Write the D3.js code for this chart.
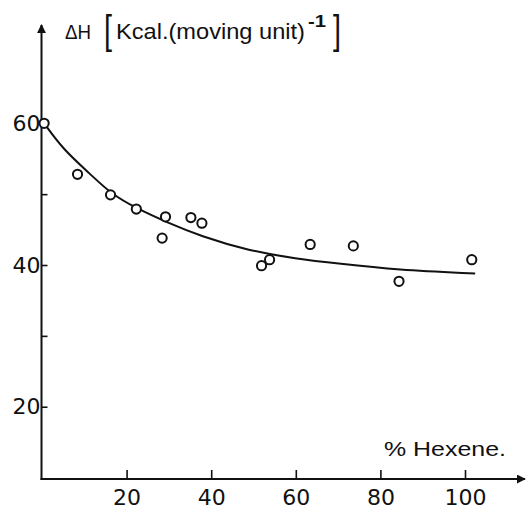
<!DOCTYPE html>
<html>
<head>
<meta charset="utf-8">
<script src="https://cdn.jsdelivr.net/npm/d3@7"></script>
<style>
  html, body { margin: 0; padding: 0; background: #fff; }
  svg { display: block; }
  text { font-family: "Liberation Sans", Arial, Helvetica, sans-serif; fill: #111; }
</style>
</head>
<body>
<script>
// Measured points: % hexene vs. activation enthalpy
const hexene = [0.5, 8.4, 16.2, 22.3, 28.4, 29.2, 35.2, 37.8, 51.9, 53.8, 63.4, 73.6, 84.4, 101.6];
const deltaH = [60, 52.8, 49.9, 47.9, 43.8, 46.8, 46.7, 45.9, 39.9, 40.75, 42.9, 42.7, 37.7, 40.75];

// Smooth trend curve drawn through the data
const fitX = [0.5, 5, 11.5, 16.2, 22.3, 29.6, 37.4, 49, 60, 70, 84, 102.4];
const fitY = [60, 56.3, 52.8, 50.1, 48, 46, 44.1, 42, 40.9, 40.2, 39.3, 38.8];

// Axis ticks
const xTicks = [20, 40, 60, 80, 100];
const yTicks = [20, 30, 40, 50, 60];
const yLabelled = [20, 40, 60];

const W = 529, H = 512;
const svg = d3.select("body").append("svg").attr("width", W).attr("height", H);

const x = d3.scaleLinear().domain([0, 100]).range([42, 465]);
const y = d3.scaleLinear().domain([9.8, 60]).range([479, 123.3]);

const axisX = 41.5, axisY = y(9.8);
const ink = "#111";
const numFont = "'DejaVu Sans', Verdana, sans-serif";

// arrowheads for the axes
const defs = svg.append("defs");
defs.append("marker").attr("id", "arrow")
  .attr("viewBox", "0 0 10 10").attr("refX", 9).attr("refY", 5)
  .attr("markerWidth", 4.5).attr("markerHeight", 4.5)
  .attr("markerUnits", "strokeWidth").attr("orient", "auto")
  .append("path").attr("d", "M0,0 L10,5 L0,10 Z").attr("fill", ink);

// axis lines
svg.append("line").attr("x1", axisX).attr("y1", axisY + 1)
  .attr("x2", axisX).attr("y2", 25)
  .attr("stroke", ink).attr("stroke-width", 2).attr("marker-end", "url(#arrow)");
svg.append("line").attr("x1", axisX - 1).attr("y1", axisY)
  .attr("x2", 525).attr("y2", axisY)
  .attr("stroke", ink).attr("stroke-width", 2).attr("marker-end", "url(#arrow)");

// bottom axis: ticks pointing up, labels below
const gx = svg.append("g").attr("transform", `translate(0,${axisY})`)
  .call(d3.axisBottom(x).tickValues(xTicks).tickSizeInner(-9).tickSizeOuter(0).tickPadding(10));
gx.select(".domain").remove();
gx.selectAll(".tick line").attr("stroke", ink).attr("stroke-width", 1.6);
gx.selectAll(".tick text").attr("font-size", 22).attr("fill", ink)
  .style("font-family", numFont);

// left axis: ticks pointing right, labels on every other tick
const gy = svg.append("g").attr("transform", `translate(${axisX},0)`)
  .call(d3.axisLeft(y).tickValues(yTicks).tickSizeInner(-6).tickSizeOuter(0).tickPadding(1)
    .tickFormat(d => yLabelled.includes(d) ? d : ""));
gy.select(".domain").remove();
gy.selectAll(".tick line").attr("stroke", ink).attr("stroke-width", 1.6);
gy.selectAll(".tick text").attr("font-size", 22).attr("fill", ink)
  .style("font-family", numFont);

// trend curve
const fit = fitX.map((v, i) => [v, fitY[i]]);
svg.append("path").datum(fit)
  .attr("fill", "none").attr("stroke", ink).attr("stroke-width", 2)
  .attr("d", d3.line().x(d => x(d[0])).y(d => y(d[1])).curve(d3.curveBasis));

// data points as open circles
const pts = hexene.map((v, i) => [v, deltaH[i]]);
svg.append("g").selectAll("circle").data(pts).join("circle")
  .attr("cx", d => x(d[0])).attr("cy", d => y(d[1])).attr("r", 4.6)
  .attr("fill", "#fff").attr("stroke", ink).attr("stroke-width", 2);

// y-axis title: ΔH [Kcal.(moving unit)^-1]
const t = svg.append("g");
t.append("text").attr("x", 65).attr("y", 39).attr("font-size", 21)
  .attr("textLength", 26).attr("lengthAdjust", "spacingAndGlyphs").text("ΔH");
t.append("text").attr("x", 104).attr("y", 44).attr("font-size", 40)
  .attr("font-weight", 300).attr("textLength", 8).attr("lengthAdjust", "spacingAndGlyphs").text("[");
t.append("text").attr("x", 116).attr("y", 39).attr("font-size", 22)
  .attr("textLength", 189).attr("lengthAdjust", "spacingAndGlyphs").text("Kcal.(moving unit)");
t.append("text").attr("x", 308).attr("y", 27).attr("font-size", 17).attr("font-weight", "bold")
  .attr("textLength", 18).attr("lengthAdjust", "spacingAndGlyphs").text("-1");
t.append("text").attr("x", 333).attr("y", 44).attr("font-size", 40)
  .attr("font-weight", 300).attr("textLength", 8).attr("lengthAdjust", "spacingAndGlyphs").text("]");

// x-axis title
svg.append("text").attr("x", 384).attr("y", 456).attr("font-size", 21)
  .attr("textLength", 122).attr("lengthAdjust", "spacingAndGlyphs").text("% Hexene.");
</script>
</body>
</html>
